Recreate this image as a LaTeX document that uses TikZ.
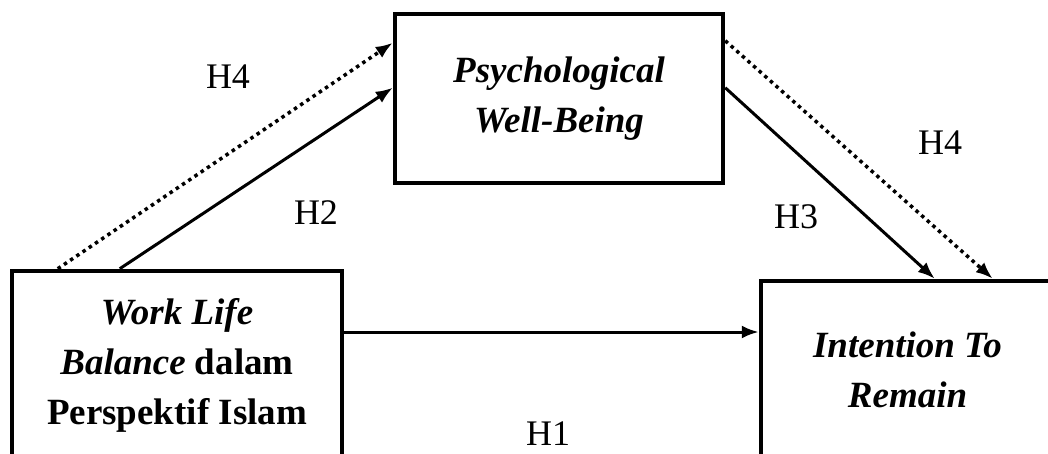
\documentclass[tikz,border=0pt]{standalone}
\usepackage{fontspec}
\setmainfont{Liberation Serif}
\usetikzlibrary{arrows.meta,calc}
\begin{document}
\begin{tikzpicture}[x=1pt,y=-1pt,
  box/.style={draw,line width=4.5pt,align=center,inner sep=0pt,
    font=\fontsize{37}{50}\selectfont\bfseries},
  arr/.style={line width=3pt,-{Latex[length=17pt,width=13pt]}},
  dotarr/.style={arr,line width=3.5pt,dash pattern=on 3.5pt off 4pt},
  lab/.style={font=\fontsize{36}{40}\selectfont,inner sep=0pt}]
\useasboundingbox (0,0) rectangle (1048,454);
\clip (0,0) rectangle (1048,454);
\node[box,minimum width=330pt,minimum height=188pt] (wlb) at (177,365)
  {\textit{Work Life}\\ \textit{Balance} dalam\\ Perspektif Islam};
\node[box,minimum width=328pt,minimum height=169pt] (pwb) at (559,98.5)
  {\textit{Psychological}\\ \textit{Well-Being}};
\node[box,minimum width=293pt,minimum height=178pt] (itr) at (907.5,370)
  {\textit{Intention To}\\ \textit{Remain}};
\coordinate (s4) at ([xshift=48pt]wlb.north west);
\coordinate (s2) at ([xshift=110pt]wlb.north west);
\coordinate (t4) at ([yshift=-31pt]pwb.north west);
\coordinate (t2) at ([yshift=-76pt]pwb.north west);
\coordinate (u4) at ([yshift=-29pt]pwb.north east);
\coordinate (u3) at ([yshift=-76pt]pwb.north east);
\coordinate (v3) at ([xshift=176pt]itr.north west);
\coordinate (v4) at ([xshift=234pt]itr.north west);
\coordinate (h1s) at ([yshift=33pt]wlb.east);
\draw[dotarr] (s4) -- (t4);
\draw[arr] (s2) -- (t2);
\draw[arr] (u3) -- (v3);
\draw[dotarr] (u4) -- (v4);
\draw[arr] (h1s) -- (h1s -| itr.west);
\node[lab] (lh4a) at (228,77) {H4};
\node[lab] (lh2) at (316,213) {H2};
\node[lab] (lh4b) at (940,143) {H4};
\node[lab] (lh3) at (796,217) {H3};
\node[lab] (lh1) at (548,434) {H1};
\end{tikzpicture}
\end{document}
